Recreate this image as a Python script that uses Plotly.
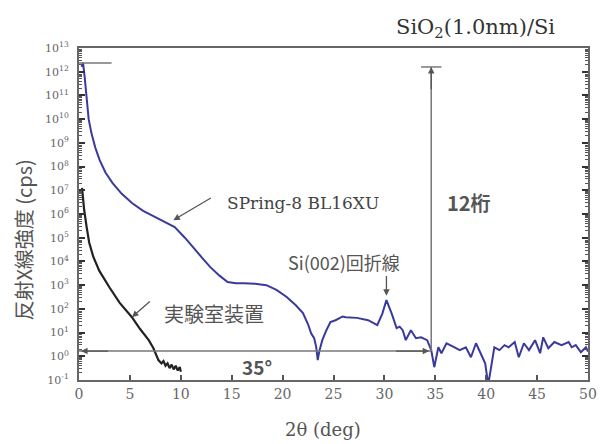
import plotly.graph_objects as go

# ---- data (2θ in deg, intensity as log10(cps)) ----
blue_x = [0.25, 0.4, 0.55, 0.74, 0.95, 1.22, 1.6, 2.03, 2.6, 3.3, 4.2, 5.2, 6.3, 7.5, 8.5, 9.4,
          10.4, 11.4, 12.2, 12.9, 13.8, 14.6, 15.4, 16.2, 17.3, 18.4, 19.4, 20.4, 21.3, 22.0,
          22.5, 22.8, 23.1, 23.3, 23.45, 23.6, 23.9, 24.3, 24.7, 25.2, 25.9, 26.2, 27.3, 28.4,
          29.3, 29.8, 30.2, 30.7, 31.2, 31.5, 31.8, 32.1, 32.6, 33.1, 33.6, 34.2, 34.6, 34.9,
          35.3, 35.6, 36.1, 36.8, 37.4, 38.0, 38.5, 39.0, 39.5, 39.9, 40.2, 40.5, 40.8, 41.3,
          41.8, 42.2, 42.8, 43.2, 43.7, 44.2, 44.8, 45.3, 45.6, 46.1, 46.7, 47.4, 48.1, 48.4,
          48.8, 49.3, 49.8, 50.0]
blue_log10 = [12.2, 12.37, 11.8, 10.8, 10.0, 9.41, 8.8, 8.27, 7.75, 7.3, 6.85, 6.46, 6.13, 5.87, 5.66, 5.45,
              5.0, 4.48, 4.1, 3.76, 3.4, 3.13, 3.08, 3.08, 3.06, 3.0, 2.8, 2.5, 2.15, 1.82,
              1.35, 0.97, 0.76, 0.4, -0.16, 0.2, 0.68, 1.1, 1.44, 1.52, 1.68, 1.65, 1.62, 1.52,
              1.31, 1.8, 2.37, 1.82, 1.19, 1.25, 1.1, 0.68, 1.1, 0.76, 0.8, 0.68, 0.26, -0.46,
              0.38, 0.13, 0.55, 0.4, 0.26, 0.38, -0.04, 0.55, 0.05, -0.3, -1.2, -0.3, 0.38, 0.26,
              0.47, 0.38, 0.6, -0.04, 0.55, 0.26, 0.68, 0.13, 0.8, 0.34, 0.6, 0.47, 0.6, 0.38,
              0.47, 0.17, 0.38, 0.2]

black_x = [0.3, 0.5, 0.75, 1.0, 1.4, 2.0, 3.0, 4.0, 5.2, 6.0, 6.85, 7.3, 7.8, 8.1, 8.3, 8.5,
           8.7, 8.9, 9.1, 9.3, 9.5, 9.7, 9.9, 10.0]
black_log10 = [7.1, 6.2, 5.45, 4.8, 4.2, 3.6, 2.9, 2.25, 1.65, 1.15, 0.68, 0.35, -0.16, -0.3, -0.2, -0.4,
               -0.3, -0.5, -0.35, -0.55, -0.4, -0.6, -0.45, -0.65]

x_ticks = [0, 5, 10, 15, 20, 25, 30, 35, 40, 45, 50]
y_decades = list(range(-1, 14))
y_ticktext = [f"10<sup>{d}</sup>" for d in y_decades]

blue_y = [10 ** v for v in blue_log10]
black_y = [10 ** v for v in black_log10]

fig = go.Figure()
fig.add_trace(go.Scatter(x=blue_x, y=blue_y, mode="lines",
                         line=dict(color="#3a3a9c", width=2), showlegend=False))
fig.add_trace(go.Scatter(x=black_x, y=black_y, mode="lines",
                         line=dict(color="#222222", width=2.2), showlegend=False))

# reference lines (12 decades / 35°)
line_col = "#777777"
fig.add_trace(go.Scatter(x=[0, 34.6], y=[10 ** 0.22, 10 ** 0.22], mode="lines",
                         line=dict(color=line_col, width=1.5), showlegend=False))
fig.add_trace(go.Scatter(x=[34.6, 34.6], y=[10 ** 0.22, 10 ** 12.2], mode="lines",
                         line=dict(color=line_col, width=1.5), showlegend=False))
fig.add_trace(go.Scatter(x=[33.6, 35.6], y=[10 ** 12.2, 10 ** 12.2], mode="lines",
                         line=dict(color=line_col, width=1.5), showlegend=False))
fig.add_trace(go.Scatter(x=[0, 3.2], y=[10 ** 12.37, 10 ** 12.37], mode="lines",
                         line=dict(color=line_col, width=1.5), showlegend=False))

jp = "Noto Sans CJK JP"
serif = "DejaVu Serif"
anns = []


def arrow(hx, hy, tx, ty, side="end"):
    anns.append(dict(x=hx, y=hy, ax=tx, ay=ty, xref="x", yref="y", axref="x", ayref="y",
                     text="", showarrow=True, arrowhead=2, arrowsize=1, arrowwidth=1.3,
                     arrowcolor="#555555", arrowside=side))


arrow(9.27, 5.74, 13.1, 6.71)
arrow(5.2, 1.65, 7.1, 2.37)
arrow(30.2, 2.55, 30.2, 3.45)
arrow(0.2, 0.22, 3.0, 0.22)
arrow(34.4, 0.22, 31.0, 0.22)
arrow(34.6, 12.2, 34.6, 11.2)


def label(x, y, text, size, font=jp, color="#555555", bold=False):
    t = f"<b>{text}</b>" if bold else text
    anns.append(dict(x=x, y=y, xref="x", yref="y", text=t, showarrow=False,
                     font=dict(family=font, size=size, color=color)))


label(22.0, 6.46, "SPring-8 BL16XU", 17, font=serif, color="#444444")
label(38.3, 6.5, "12桁", 20, bold=True)
label(26.0, 3.97, "Si(002)回折線", 18)
label(13.3, 1.82, "実験室装置", 20)
label(17.5, -0.42, "35°", 19, bold=True)

anns.append(dict(x=0.778, y=1.06, xref="paper", yref="paper", text="SiO<sub>2</sub>(1.0nm)/Si",
                 showarrow=False, xanchor="center", yanchor="middle",
                 font=dict(family=serif, size=21, color="#333333")))
anns.append(dict(x=-0.108, y=0.42, xref="paper", yref="paper", text="反射X線強度 (cps)",
                 textangle=-90, showarrow=False, xanchor="center", yanchor="middle",
                 font=dict(family=jp, size=20, color="#555555")))
anns.append(dict(x=0.479, y=-0.15, xref="paper", yref="paper", text="2θ (deg)",
                 showarrow=False, xanchor="center", yanchor="middle",
                 font=dict(family=serif, size=18, color="#555555")))

minor_vals = [m * 10 ** d for d in range(-1, 13) for m in (2, 3, 4, 5, 6, 7, 8, 9)]

# the page body has an 8px margin: size and margins compensate so the plot area
# lands at x 79..597, y 48..380 of the 606x444 window
fig.update_layout(
    width=598, height=436,
    margin=dict(l=71, r=9, t=40, b=64),
    paper_bgcolor="white", plot_bgcolor="white",
    annotations=anns,
    xaxis=dict(range=[0, 50], tickvals=x_ticks, ticks="inside", ticklen=5, tickwidth=1.5,
               tickcolor="#555555", showline=True, linecolor="#666666", linewidth=2,
               mirror=True, showgrid=False, zeroline=False,
               tickfont=dict(family=serif, size=14, color="#666666")),
    yaxis=dict(type="log", range=[-1, 13], tickvals=[10 ** d for d in y_decades],
               ticktext=y_ticktext, ticks="inside", ticklen=6, tickwidth=2,
               tickcolor="#333333", showline=True, linecolor="#666666", linewidth=2,
               mirror="allticks", showgrid=False, zeroline=False, ticklabelstandoff=6,
               minor=dict(tickvals=minor_vals, ticks="inside", ticklen=3, tickcolor="#555555",
                          tickwidth=1, showgrid=False),
               tickfont=dict(family=serif, size=11, color="#666666")),
)

fig.write_html("out.html")
